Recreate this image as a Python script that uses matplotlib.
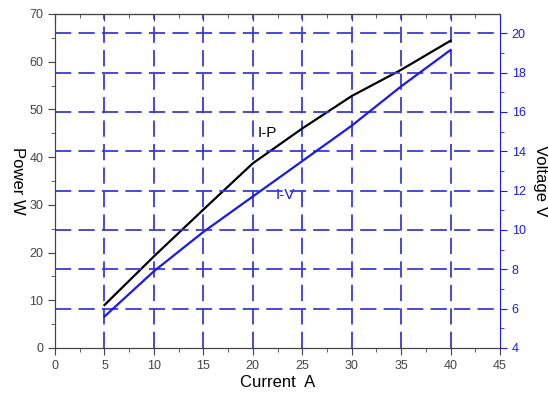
import matplotlib
matplotlib.use('Agg')
import matplotlib.pyplot as plt
from matplotlib.ticker import MultipleLocator

plt.rcParams['font.family'] = ['Liberation Sans', 'DejaVu Sans']

# data
current = [5, 10, 15, 20, 25, 30, 35, 40]
power = [9.0, 19.2, 29.0, 38.7, 46.0, 52.8, 58.3, 64.4]
voltage = [5.6, 7.9, 9.9, 11.7, 13.5, 15.3, 17.3, 19.15]

x_ticks = [0, 5, 10, 15, 20, 25, 30, 35, 40, 45]
p_ticks = [0, 10, 20, 30, 40, 50, 60, 70]
v_ticks = [4, 6, 8, 10, 12, 14, 16, 18, 20]

grid_col = '#3a3ad8'
blue = '#1a1aee'
axis_col = '#444444'

fig = plt.figure(figsize=(5.48, 3.94), dpi=100)
ax = fig.add_axes([0.1004, 0.1168, 0.8120, 0.8477])
ax2 = ax.twinx()

ax.plot(current, power, color='black', lw=1.6, zorder=3)
ax2.plot(current, voltage, color=blue, lw=1.6, zorder=3)

ax.set_xlim(0, 45)
ax.set_ylim(0, 70)
ax2.set_ylim(4, 20.98)

ax.set_xticks(x_ticks)
ax.set_yticks(p_ticks)
ax2.set_yticks(v_ticks)
ax.xaxis.set_minor_locator(MultipleLocator(2.5))
ax.yaxis.set_minor_locator(MultipleLocator(5))
ax2.yaxis.set_minor_locator(MultipleLocator(1))

# dashed grid: vertical from current axis, horizontal from voltage axis
for xv in x_ticks[1:-1]:
    ax.axvline(xv, color=grid_col, lw=1.3, ls=(0, (9, 4)), zorder=1)
for yv in v_ticks[1:]:
    ax2.axhline(yv, color=grid_col, lw=1.3, ls=(0, (9, 4)), zorder=1)

ax.tick_params(axis='x', which='both', direction='out', colors=axis_col, labelsize=9)
ax.tick_params(axis='x', which='major', length=5)
ax.tick_params(axis='x', which='minor', length=3)
ax.tick_params(axis='y', which='both', direction='out', colors=axis_col, labelsize=9)
ax.tick_params(axis='y', which='major', length=5)
ax.tick_params(axis='y', which='minor', length=3)
ax2.tick_params(axis='y', which='both', direction='out', colors=blue, labelsize=9)
ax2.tick_params(axis='y', which='major', length=5)
ax2.tick_params(axis='y', which='minor', length=3)

# inward ticks on the top edge
top = ax.secondary_xaxis('top')
top.set_xticks(x_ticks)
top.xaxis.set_minor_locator(MultipleLocator(2.5))
top.tick_params(axis='x', which='both', direction='in', colors=axis_col, labeltop=False)
top.tick_params(axis='x', which='major', length=5)
top.tick_params(axis='x', which='minor', length=3)
top.spines['top'].set_color(axis_col)

for s in ['left', 'bottom', 'top']:
    ax.spines[s].set_color(axis_col)
    ax2.spines[s].set_color(axis_col)
ax2.spines['right'].set_color(blue)
ax.spines['right'].set_visible(False)

ax.set_xlabel('Current  A', fontsize=12, labelpad=2)
ax.set_ylabel('Power W', fontsize=12, rotation=270, labelpad=14)
ax2.set_ylabel('Voltage V', fontsize=12, rotation=270, labelpad=16)

ax.text(21.5, 45, 'I-P', color='black', fontsize=11, ha='center', va='center')
ax.text(23.3, 32, 'I-V', color=blue, fontsize=11, ha='center', va='center')

fig.savefig('out.png', dpi=100)
